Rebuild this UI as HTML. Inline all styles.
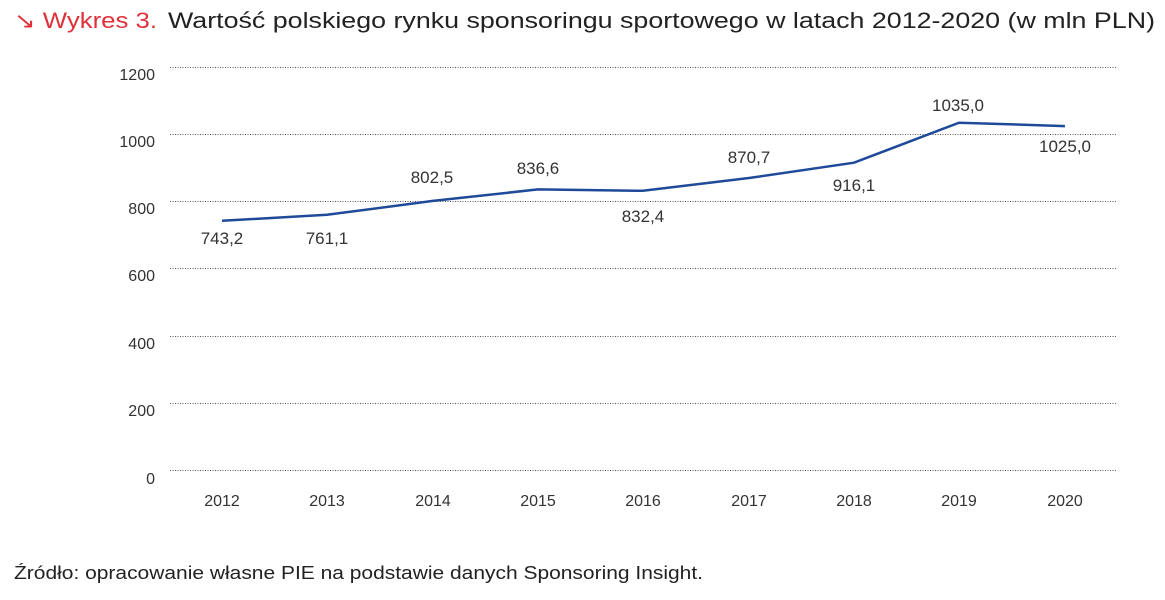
<!DOCTYPE html>
<html><head><meta charset="utf-8"><style>
body{margin:0;background:#fff;width:1165px;height:595px;overflow:hidden;font-family:"Liberation Sans",sans-serif}
</style></head><body>
<svg width="1165" height="595" xmlns="http://www.w3.org/2000/svg" font-family="Liberation Sans, sans-serif">
<text x="14" y="28" font-size="22" fill="#e0303a" textLength="143" lengthAdjust="spacingAndGlyphs">↘ Wykres 3.</text>
<text x="168" y="28" font-size="22" fill="#222" textLength="987" lengthAdjust="spacingAndGlyphs">Wartość polskiego rynku sponsoringu sportowego w latach 2012-2020 (w mln PLN)</text>
<g stroke="#555" stroke-width="1" stroke-dasharray="1,1.5">
<line x1="170" x2="1116" y1="67.5" y2="67.5"/><line x1="170" x2="1116" y1="134.5" y2="134.5"/>
<line x1="170" x2="1116" y1="201.5" y2="201.5"/><line x1="170" x2="1116" y1="268.5" y2="268.5"/>
<line x1="170" x2="1116" y1="336.5" y2="336.5"/><line x1="170" x2="1116" y1="403.5" y2="403.5"/>
<line x1="170" x2="1116" y1="470.5" y2="470.5"/>
</g>
<g font-size="16" fill="#333" text-anchor="end">
<text x="155" y="80">1200</text><text x="155" y="147">1000</text><text x="155" y="214">800</text>
<text x="155" y="281">600</text><text x="155" y="349">400</text><text x="155" y="416">200</text><text x="155" y="484">0</text>
</g>
<g font-size="16" fill="#333" text-anchor="middle">
<text x="222" y="506">2012</text><text x="327" y="506">2013</text><text x="433" y="506">2014</text>
<text x="538" y="506">2015</text><text x="643" y="506">2016</text><text x="749" y="506">2017</text>
<text x="854" y="506">2018</text><text x="959" y="506">2019</text><text x="1065" y="506">2020</text>
</g>
<polyline fill="none" stroke="#1f4a99" stroke-width="2.5" points="222,220.8 327,214.8 433,200.9 538,189.4 643,190.8 749,178 854,162.7 959,122.7 1065,126.1"/>
<g font-size="17" fill="#333" text-anchor="middle">
<text x="222" y="244">743,2</text><text x="327" y="244">761,1</text><text x="432" y="183">802,5</text>
<text x="538" y="174">836,6</text><text x="643" y="222">832,4</text><text x="749" y="163">870,7</text>
<text x="854" y="191">916,1</text><text x="958" y="111">1035,0</text><text x="1065" y="152">1025,0</text>
</g>
<text x="14" y="579" font-size="18" fill="#222" textLength="689" lengthAdjust="spacingAndGlyphs">Źródło: opracowanie własne PIE na podstawie danych Sponsoring Insight.</text>
</svg>
</body></html>
